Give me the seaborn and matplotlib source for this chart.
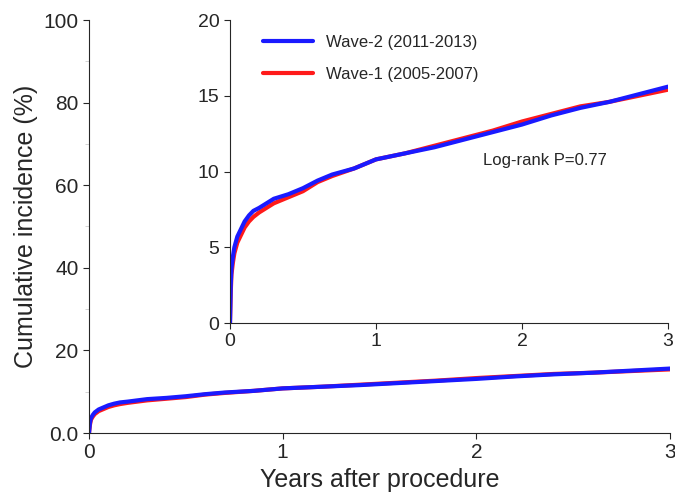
import numpy as np
import pandas as pd
import seaborn as sns
import matplotlib.pyplot as plt

years_w2 = [0, 0.005, 0.01, 0.02, 0.03, 0.05, 0.08, 0.1, 0.13, 0.16, 0.2, 0.25, 0.3, 0.4, 0.5, 0.6, 0.7, 0.85, 1.0, 1.2, 1.4, 1.6, 1.8, 2.0, 2.2, 2.4, 2.6, 2.8, 3.0]
inc_w2 = [0, 2.5, 3.6, 4.4, 5.0, 5.7, 6.3, 6.7, 7.1, 7.4, 7.6, 7.9, 8.2, 8.5, 8.9, 9.4, 9.8, 10.2, 10.8, 11.2, 11.6, 12.1, 12.6, 13.1, 13.7, 14.2, 14.6, 15.1, 15.6]
years_w1 = [0, 0.005, 0.01, 0.02, 0.03, 0.05, 0.08, 0.1, 0.13, 0.16, 0.2, 0.25, 0.3, 0.4, 0.5, 0.6, 0.7, 0.85, 1.0, 1.2, 1.4, 1.6, 1.8, 2.0, 2.2, 2.4, 2.6, 2.8, 3.0]
inc_w1 = [0, 2.0, 3.2, 4.0, 4.6, 5.3, 5.9, 6.3, 6.7, 7.0, 7.3, 7.6, 7.9, 8.3, 8.7, 9.3, 9.7, 10.2, 10.8, 11.2, 11.7, 12.2, 12.7, 13.3, 13.8, 14.3, 14.6, 15.0, 15.4]

df = pd.concat([
    pd.DataFrame({'years': years_w2, 'inc': inc_w2, 'wave': 'Wave-2 (2011-2013)'}),
    pd.DataFrame({'years': years_w1, 'inc': inc_w1, 'wave': 'Wave-1 (2005-2007)'}),
])
colors = {'Wave-2 (2011-2013)': '#1a1aff', 'Wave-1 (2005-2007)': '#ff1a1a'}
order = ['Wave-1 (2005-2007)', 'Wave-2 (2011-2013)']  # blue drawn on top

sns.set_style('ticks')
plt.rcParams['font.family'] = ['Liberation Sans', 'DejaVu Sans']
fig = plt.figure(figsize=(6.75, 4.94), dpi=100)
ax = fig.add_axes([89/675, 1-433/494, 581/675, 413/494])

for w in order:
    d = df[df.wave == w]
    sns.lineplot(x=d.years, y=d.inc, color=colors[w], lw=3, ax=ax, legend=False)
ax.set_xlim(0, 3)
ax.set_ylim(0, 100)
ax.set_xticks([0, 1, 2, 3])
ax.set_yticks([0, 20, 40, 60, 80, 100])
ax.set_yticklabels(['0.0', '20', '40', '60', '80', '100'])
ax.set_yticks([10, 30, 50, 70, 90], minor=True)
ax.tick_params(which='minor', color='#cccccc', length=3)
ax.tick_params(labelsize=15, length=4)
ax.set_xlabel('Years after procedure', fontsize=18)
ax.set_ylabel('Cumulative incidence (%)', fontsize=18)
for s in ['top', 'right']:
    ax.spines[s].set_visible(False)
ax.margins(0)

ins = fig.add_axes([230/675, 1-323/494, 438/675, 303/494])
for w in order:
    d = df[df.wave == w]
    sns.lineplot(x=d.years, y=d.inc, color=colors[w], lw=3, ax=ins, label=w)
ins.set_xlim(0, 3)
ins.set_ylim(0, 20)
ins.set_xticks([0, 1, 2, 3])
ins.set_yticks([0, 5, 10, 15, 20])
ins.tick_params(labelsize=14, length=4)
ins.set_xlabel('')
ins.set_ylabel('')
for s in ['top', 'right']:
    ins.spines[s].set_visible(False)
ins.patch.set_alpha(0)
h, l = ins.get_legend_handles_labels()
ins.legend(h[::-1], l[::-1], loc='upper left', bbox_to_anchor=(0.04, 1.0), frameon=False,
           fontsize=12, handlelength=3, labelspacing=1.0)
ins.text(1.73, 10.4, 'Log-rank P=0.77', fontsize=12)

fig.savefig('out.png', dpi=100)
